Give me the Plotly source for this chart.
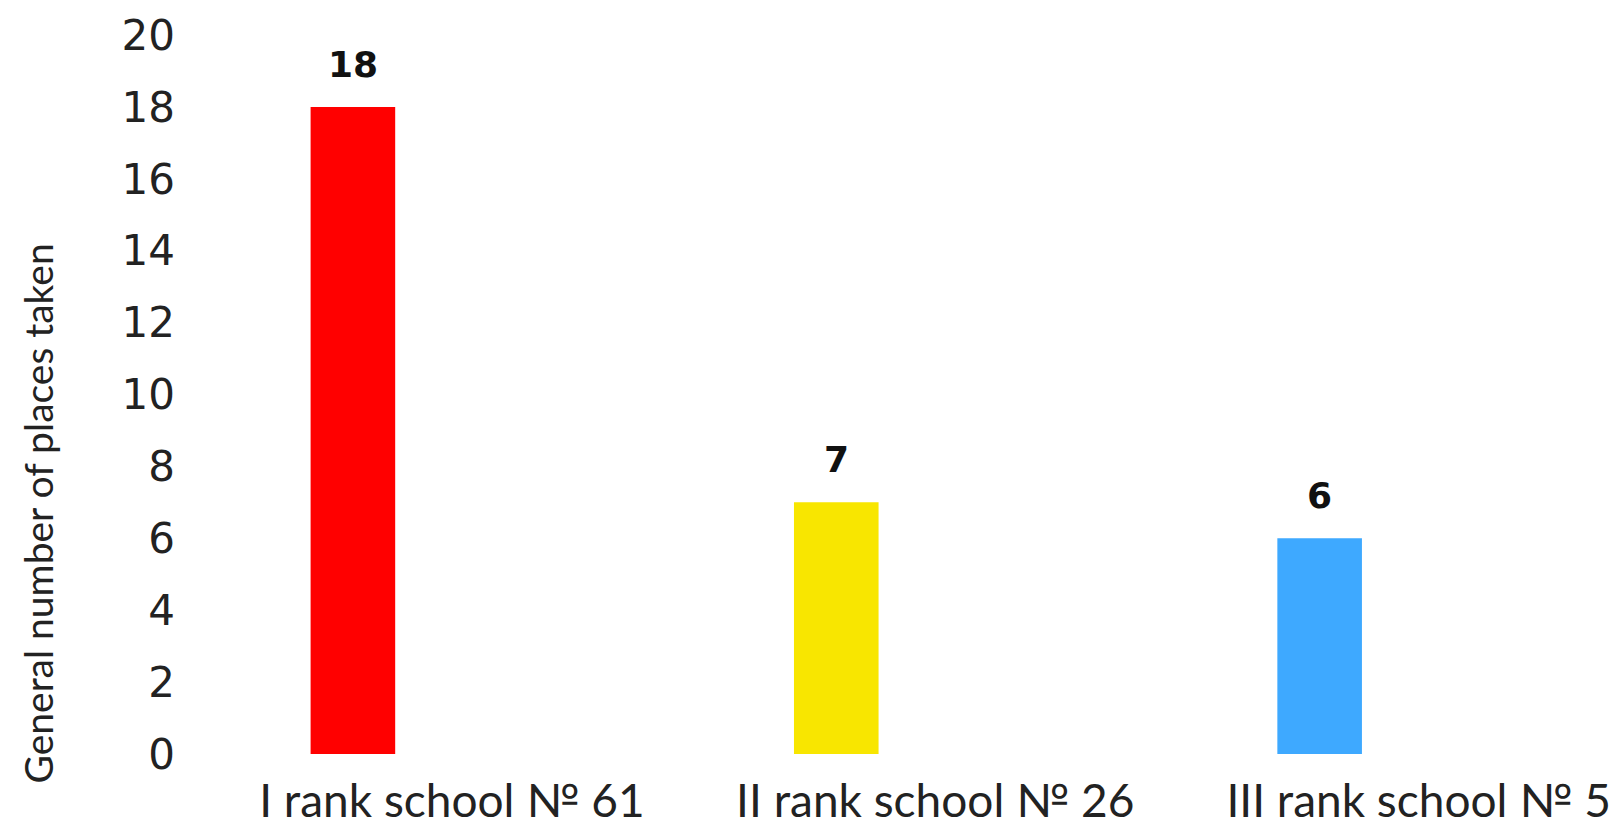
import plotly.graph_objects as go

schools = ["I rank school № 61", "II rank school № 26", "III rank school № 5"]
places = [18, 7, 6]
bar_colors = ["#FF0000", "#F8E600", "#3EA9FF"]
y_ticks = [0, 2, 4, 6, 8, 10, 12, 14, 16, 18, 20]

fig = go.Figure(
    go.Bar(
        x=schools,
        y=places,
        marker={"color": bar_colors, "line": {"width": 0}},
        width=0.175,
        showlegend=False,
    )
)

# value labels sit well above each bar
for school, value in zip(schools, places):
    fig.add_annotation(
        x=school,
        y=value,
        text=f"<b>{value}</b>",
        showarrow=False,
        yanchor="bottom",
        yshift=20,
        font={"family": "DejaVu Sans", "size": 36, "color": "#111111"},
        xref="x",
        yref="y",
    )

fig.add_annotation(
    text="General number of places taken",
    textangle=-90,
    xref="paper",
    yref="paper",
    x=-0.108,
    y=0.334,
    xanchor="center",
    yanchor="middle",
    showarrow=False,
    font={"family": "Lato", "size": 39, "color": "#222222"},
)

# the page adds an 8px body margin, so the figure is sized to fit inside it
fig.update_layout(
    width=1611,
    height=820,
    margin={"l": 182, "r": 19, "t": 27, "b": 74},
    plot_bgcolor="white",
    paper_bgcolor="white",
)
fig.update_xaxes(
    range=[-0.337, 2.58],
    automargin=False,
    showgrid=False,
    showline=False,
    zeroline=False,
    ticks="",
    ticklabelshift=99,
    ticklabelstandoff=16,
    tickfont={"family": "Lato", "size": 46, "color": "#222222"},
)
fig.update_yaxes(
    range=[0, 20],
    automargin=False,
    tickvals=y_ticks,
    showgrid=False,
    showline=False,
    zeroline=False,
    ticks="",
    ticklabelstandoff=14,
    tickfont={"family": "DejaVu Sans", "size": 42, "color": "#222222"},
)

fig.write_html("out.html")
